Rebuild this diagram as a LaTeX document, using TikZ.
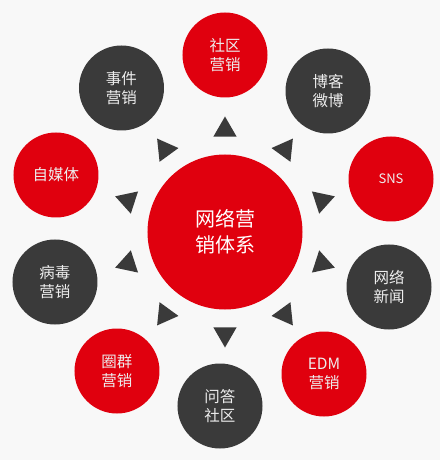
\documentclass[tikz,border=0pt]{standalone}
\usepackage{fontspec}
\newfontfamily\cjk{Noto Sans CJK SC}
\usetikzlibrary{shapes.geometric}
\definecolor{netred}{HTML}{E0000E}
\definecolor{netdark}{HTML}{3A3A3A}
\definecolor{netbg}{HTML}{F8F8F8}
\tikzset{
    hub/.style={circle, fill=netred, text=white, minimum size=155pt, inner sep=0pt, align=center, font=\cjk\fontsize{20}{26}\selectfont},
    spoke/.style={circle, minimum size=85pt, inner sep=0pt, text=white!93!black, align=center, font=\cjk\fontsize{15.5}{19.5}\selectfont},
    pointer/.style={regular polygon, regular polygon sides=3, fill=netdark, minimum size=27pt, inner sep=0pt}
}
\begin{document}
\begin{tikzpicture}[x=1pt, y=1pt]
    % Background
    \fill[netbg] (-225,-228) rectangle (215,232);
    \useasboundingbox (-225,-228) rectangle (215,232);

    % Main circle
    \node[hub] (sys) at (0,0) {网络营\\销体系};

    % Outer circles
    \foreach \i/\pos/\col/\txt in {
        1/{(0,177)}/netred/{社区\\营销},
        2/{(103,141)}/netdark/{博客\\微博},
        3/{(166,53)}/netred/{\fontsize{13}{16}\selectfont SNS},
        4/{(164,-55)}/netdark/{网络\\新闻},
        5/{(99,-142)}/netred/{EDM\\营销},
        6/{(-5,-174)}/netdark/{问答\\社区},
        7/{(-108,-139)}/netred/{圈群\\营销},
        8/{(-170,-50)}/netdark/{病毒\\营销},
        9/{(-169,57)}/netred/{自媒体},
        10/{(-103.5,144)}/netdark/{事件\\营销}} {
        \node[spoke, fill=\col] (c\i) at \pos {\txt};
    }

    % Triangles pointing outwards
    \foreach \i/\a in {1/90, 2/54, 3/18, 4/-18, 5/-54, 6/-90, 7/-126, 8/-162, 9/162, 10/126} {
        \node[pointer, rotate=\a-90] (tri\i) at (\a:102) {};
    }
\end{tikzpicture}
\end{document}
